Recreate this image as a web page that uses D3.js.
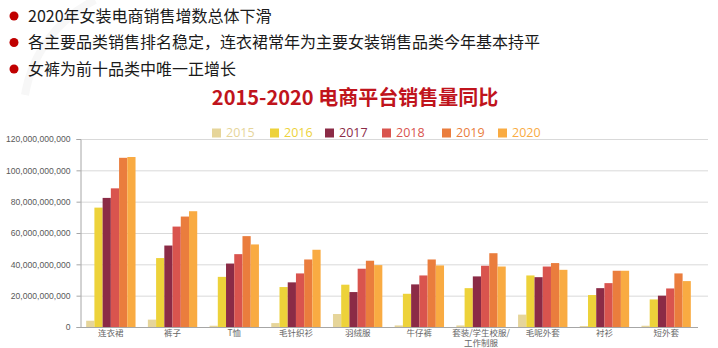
<!DOCTYPE html>
<html><head><meta charset="utf-8">
<script src="https://cdn.jsdelivr.net/npm/d3@7/dist/d3.min.js"></script>
<style>
html,body{margin:0;padding:0;background:#fff;}
svg{display:block;}
</style></head>
<body>
<svg id="chart" width="718" height="348"></svg>
<script>
const bullets = [
  "2020年女装电商销售增数总体下滑",
  "各主要品类销售排名稳定，连衣裙常年为主要女装销售品类今年基本持平",
  "女裤为前十品类中唯一正增长"
];
const title = "2015-2020 电商平台销售量同比";
const categories = ["连衣裙","裤子","T恤","毛针织衫","羽绒服","牛仔裤","套装/学生校服/工作制服","毛呢外套","衬衫","短外套"];
const years = ["2015","2016","2017","2018","2019","2020"];
const colors = ["#e6d59a","#edd23a","#8b2b46","#d9544e","#ea7d3d","#f9ab42"];
// values in billions (1e9)
const v2015 = [4.0, 4.7, 0.8, 2.5, 8.3, 1.0, 1.0, 7.9, 0.6, 0.8];
const v2016 = [76.2, 44.0, 32.0, 25.5, 27.0, 21.2, 24.8, 32.9, 20.4, 17.6];
const v2017 = [82.4, 52.0, 40.5, 28.5, 22.3, 27.2, 32.3, 31.8, 24.8, 20.0];
const v2018 = [88.5, 64.1, 46.5, 34.2, 37.2, 32.9, 39.1, 38.6, 28.0, 24.6];
const v2019 = [108.0, 70.5, 58.0, 43.1, 42.3, 43.1, 47.1, 40.8, 35.9, 34.2];
const v2020 = [108.5, 73.9, 52.7, 49.3, 39.5, 39.3, 38.6, 36.5, 35.9, 29.3];
const yTicks = [0, 20e9, 40e9, 60e9, 80e9, 100e9, 120e9];

const seriesVals = [v2015, v2016, v2017, v2018, v2019, v2020];
const data = categories.map((c, i) => ({cat: c, vals: years.map((y, j) => ({year: y, value: seriesVals[j][i] * 1e9, color: colors[j]}))}));

const svg = d3.select("#chart");
const font = "'Microsoft YaHei','Noto Sans CJK SC','Liberation Sans',sans-serif";

// faint watermark arc
svg.append("path").attr("d", "M 95 0 A 130 130 0 0 0 25 95")
  .attr("fill", "none").attr("stroke", "#f7f7f7").attr("stroke-width", 8);

// bullets
const bl = svg.append("g");
bullets.forEach((t, i) => {
  const cy = 16 + i * 26.5;
  bl.append("circle").attr("cx", 14).attr("cy", cy).attr("r", 4.5).attr("fill", "#c00000");
  bl.append("text").attr("x", 28).attr("y", cy).attr("dy", "0.35em")
    .attr("font-family", font).attr("font-size", 16).attr("fill", "#1a1a1a").text(t);
});

// title
svg.append("text").attr("x", 355).attr("y", 105).attr("text-anchor", "middle")
  .attr("font-family", "'Noto Sans CJK SC',sans-serif").attr("font-weight", "bold")
  .attr("font-size", 20).attr("fill", "#c0141c").text(title);

const x0 = d3.scaleBand().domain(categories).range([80, 697]).paddingInner(0.2).paddingOuter(0.1);
const x1 = d3.scaleBand().domain(years).range([0, x0.bandwidth()]).padding(0);
const y = d3.scaleLinear().domain([0, 120e9]).range([327, 139]);

// gridlines
svg.append("g").selectAll("line").data(yTicks.filter(d => d > 0)).join("line")
  .attr("x1", 80).attr("x2", 708).attr("y1", d => y(d) + 0.5).attr("y2", d => y(d) + 0.5)
  .attr("stroke", "#d9d9d9").attr("stroke-width", 1);

// y axis
const yAxis = svg.append("g").attr("transform", "translate(80.5,0)")
  .call(d3.axisLeft(y).tickValues(yTicks).tickSize(4).tickPadding(6).tickFormat(d3.format(",")));
yAxis.select(".domain").attr("stroke", "#a6a6a6");
yAxis.selectAll(".tick line").attr("stroke", "#a6a6a6");
yAxis.selectAll("text").attr("font-family", "'Liberation Sans',Arial,sans-serif").attr("font-size", 8.6).attr("fill", "#595959");

// bars
const groups = svg.append("g").selectAll("g").data(data).join("g")
  .attr("transform", d => `translate(${x0(d.cat)},0)`);
groups.selectAll("rect").data(d => d.vals).join("rect")
  .attr("x", d => x1(d.year)).attr("width", x1.bandwidth())
  .attr("y", d => y(d.value)).attr("height", d => y(0) - y(d.value))
  .attr("fill", d => d.color);

// x axis baseline
svg.append("line").attr("x1", 80).attr("x2", 698).attr("y1", y(0) + 0.5).attr("y2", y(0) + 0.5)
  .attr("stroke", "#a6a6a6").attr("stroke-width", 1.2);

// x labels
const xl = svg.append("g");
categories.forEach(c => {
  const cx = x0(c) + x0.bandwidth() / 2;
  const lines = c.length > 6 ? [c.slice(0, 8), c.slice(8)] : [c];
  lines.forEach((ln, k) => {
    xl.append("text").attr("x", cx).attr("y", 336 + k * 10).attr("text-anchor", "middle")
      .attr("font-family", font).attr("font-size", 8.5).attr("fill", "#666666").text(ln);
  });
});

// legend
const lg = svg.append("g");
const legX = [212, 270, 325, 382, 442, 498];
years.forEach((yr, i) => {
  lg.append("rect").attr("x", legX[i]).attr("y", 128.5).attr("width", 9).attr("height", 9).attr("fill", colors[i]);
  lg.append("text").attr("x", legX[i] + 14).attr("y", 133).attr("dy", "0.35em")
    .attr("font-family", "'Open Sans','Liberation Sans',sans-serif").attr("font-size", 12.5)
    .attr("fill", colors[i]).text(yr);
});
</script>
</body></html>
